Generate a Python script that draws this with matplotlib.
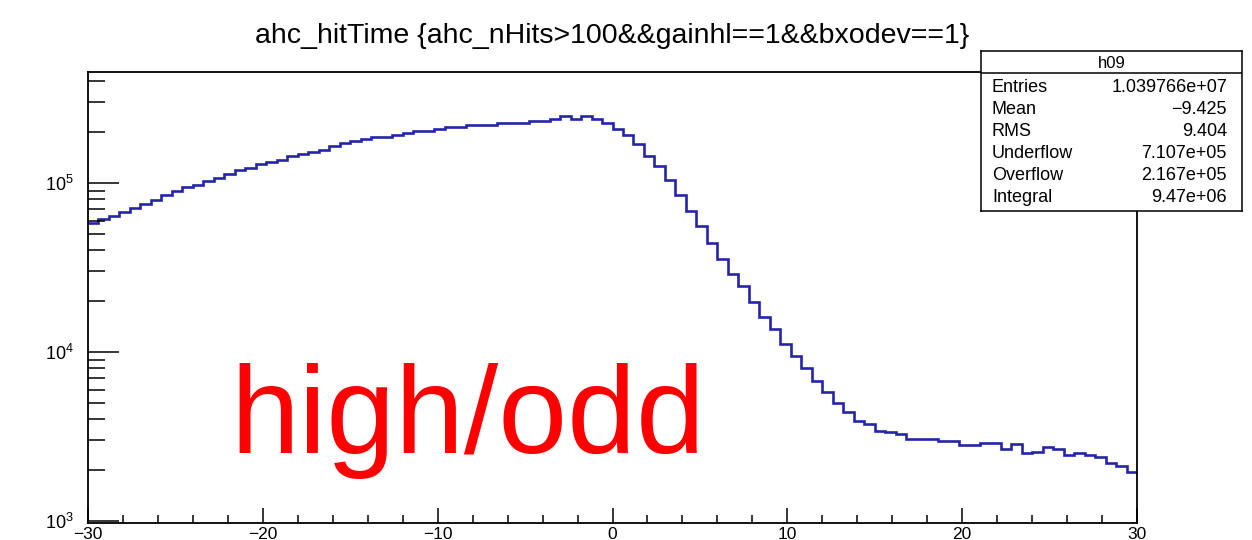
import numpy as np
import matplotlib
matplotlib.use('Agg')
import matplotlib.pyplot as plt
from matplotlib.ticker import FixedLocator, FixedFormatter, MultipleLocator

plt.rcParams['font.family'] = ['Liberation Sans', 'DejaVu Sans']
plt.rcParams['mathtext.fontset'] = 'custom'
plt.rcParams['mathtext.rm'] = 'Liberation Sans'

# histogram h09: 100 bins from -30 to 30, contents
x_min, x_max, n_bins = -30, 30, 100
counts = [
    58000, 61200, 64000, 67600, 71400, 75400, 79650, 84900, 89700, 94700,
    97300, 102800, 106500, 112400, 118700, 122000, 130100, 133700, 137400, 143700,
    149100, 152600, 157400, 166300, 171500, 176300, 182200, 186200, 188000, 192300,
    196600, 203100, 204000, 208700, 214500, 215000, 221300, 221500, 222000, 226500,
    227000, 227500, 232800, 233000, 239200, 247700, 240200, 247700, 240200, 226500,
    208700, 193100, 170800, 145000, 125400, 103600, 84500, 67900, 55350, 44150,
    35650, 29050, 24670, 19760, 16110, 13680, 11200, 9508, 8040, 6790,
    5845, 4990, 4416, 3922, 3764, 3435, 3362, 3285, 3069, 3060,
    3050, 2986, 2980, 2828, 2825, 2918, 2915, 2667, 2855, 2526,
    2581, 2741, 2667, 2468, 2546, 2468, 2392, 2203, 2133, 1966,
]

title = 'ahc_hitTime {ahc_nHits>100&&gainhl==1&&bxodev==1}'
hist_name = 'h09'
stat_names = ['Entries', 'Mean', 'RMS', 'Underflow', 'Overflow', 'Integral']
stat_values = ['1.039766e+07', '\u22129.425', '9.404', '7.107e+05', '2.167e+05', '9.47e+06']

W, H = 1252, 540
fig = plt.figure(figsize=(W / 100, H / 100), dpi=100)

# main pad
ax = fig.add_axes([88 / W, 1 - 523 / H, (1137 - 88) / W, (523 - 72) / H])
edges = np.linspace(x_min, x_max, n_bins + 1)
ax.stairs(counts, edges, color='#2424aa', lw=1.9, baseline=None)
ax.set_yscale('log')
ax.set_xlim(x_min, x_max)
ax.set_ylim(975, 4.54e5)

for s in ax.spines.values():
    s.set_linewidth(1.3)

# x ticks like ROOT: major every 10, minor every 2, inside
ax.xaxis.set_major_locator(MultipleLocator(10))
ax.xaxis.set_minor_locator(MultipleLocator(2))
ax.tick_params(axis='x', which='major', direction='in', length=11, width=1.1,
               labelsize=12.5, pad=3, top=False)
ax.tick_params(axis='x', which='minor', direction='in', length=6, width=1.1, top=False)

# y ticks: decades with 2..9 minors
decades = [1e3, 1e4, 1e5]
ax.yaxis.set_major_locator(FixedLocator(decades))
ax.yaxis.set_major_formatter(FixedFormatter([r'$\mathregular{10^{3}}$',
                                             r'$\mathregular{10^{4}}$',
                                             r'$\mathregular{10^{5}}$']))
minors = [m * d for d in [1e2, 1e3, 1e4, 1e5] for m in range(2, 10)]
ax.yaxis.set_minor_locator(FixedLocator(minors))
ax.yaxis.set_minor_formatter(FixedFormatter([''] * len(minors)))
ax.tick_params(axis='y', which='major', direction='in', length=22, width=1.1,
               labelsize=13, pad=10, right=False)
ax.tick_params(axis='y', which='minor', direction='in', length=12, width=1.1, right=False)

fig.text((88 + 1137) / 2 / W, 1 - 36 / H, title, ha='center', va='center', fontsize=20.5)

# big red label
fig.text(230 / W, 1 - 453 / H, 'high/odd', color='red', fontsize=89,
         ha='left', va='baseline')

# stats box
box = fig.add_axes([981 / W, 1 - 211 / H, (1242 - 981) / W, (211 - 51) / H])
box.set_xticks([])
box.set_yticks([])
box.set_facecolor('white')
for s in box.spines.values():
    s.set_linewidth(1.1)
box.axhline(1 - 22 / 160, color='black', lw=1.1)
box.text(0.5, 1 - 12 / 160, hist_name, ha='center', va='center', fontsize=12)
for i, (name, val) in enumerate(zip(stat_names, stat_values)):
    y = 1 - (88 + 21.8 * i - 51) / 160
    box.text(0.042, y, name, ha='left', va='center', fontsize=13)
    box.text(0.9425, y, val, ha='right', va='center', fontsize=13)

fig.savefig('out.png', dpi=100)
